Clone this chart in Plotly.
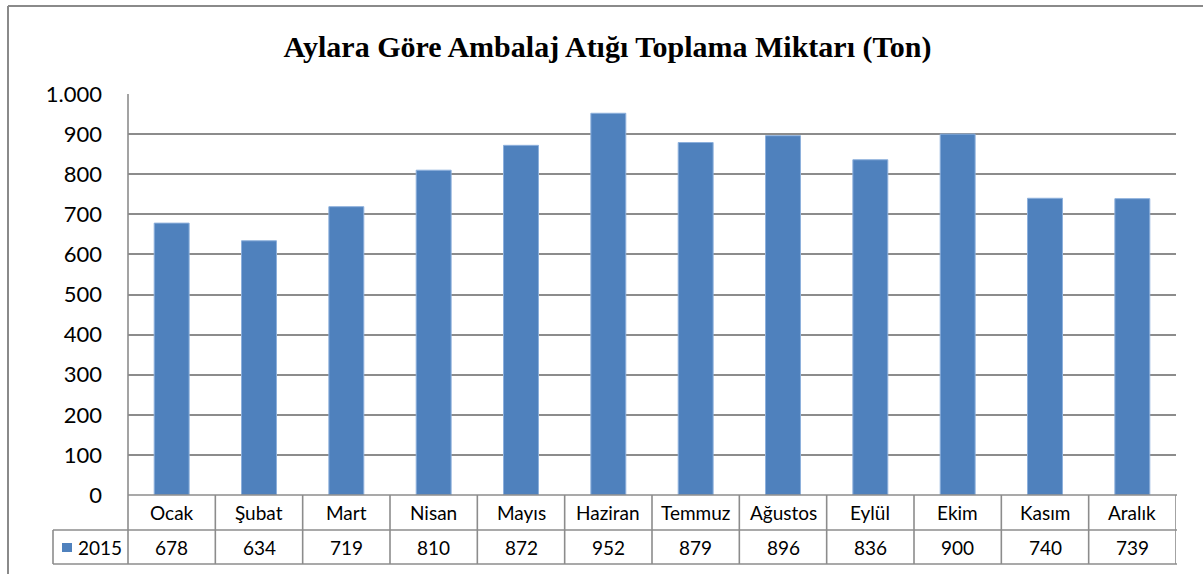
import plotly.graph_objects as go

title_text = "Aylara Göre Ambalaj Atığı Toplama Miktarı (Ton)"
series_name = "2015"
months = ["Ocak", "Şubat", "Mart", "Nisan", "Mayıs", "Haziran",
          "Temmuz", "Ağustos", "Eylül", "Ekim", "Kasım", "Aralık"]
values = [678, 634, 719, 810, 872, 952, 879, 896, 836, 900, 740, 739]
y_ticks = [0, 100, 200, 300, 400, 500, 600, 700, 800, 900, 1000]
y_tick_labels = ["0", "100", "200", "300", "400", "500", "600", "700", "800", "900", "1.000"]

W, H = 1203, 574
L, R, T, B = 128, 1176, 94, 495  # plot area in pixels
pw, ph = R - L, B - T

def px_x(p):
    return (p - L) / pw

def px_y(p):
    return (B - p) / ph

BAR = "#4F81BD"
GRID = "#8C8C8C"
TXT = "#000000"
FONT = "Lato"

fig = go.Figure()
fig.add_trace(go.Bar(
    x=months, y=values, name=series_name,
    marker=dict(color=BAR, line=dict(color="#8DB0DC", width=1)),
    showlegend=False, hoverinfo="x+y",
))

shapes = []
annotations = []

# table geometry (paper y)
row1_top = px_y(495)
row1_bot = px_y(530)
row2_bot = px_y(564)
line_style = dict(color=GRID, width=1.6)

for yy in (row1_bot, row2_bot):
    shapes.append(dict(type="line", xref="paper", yref="paper",
                       x0=px_x(53), x1=px_x(1177), y0=yy, y1=yy, line=line_style))
shapes.append(dict(type="line", xref="paper", yref="paper",
                   x0=0, x1=px_x(1177), y0=row1_top, y1=row1_top, line=line_style))
shapes.append(dict(type="line", xref="paper", yref="paper",
                   x0=px_x(53), x1=px_x(53), y0=row1_bot, y1=row2_bot, line=line_style))
shapes.append(dict(type="line", xref="paper", yref="paper",
                   x0=0, x1=0, y0=1, y1=row2_bot, line=line_style))
for i in range(len(months)):
    shapes.append(dict(type="line", xref="x", yref="paper",
                       x0=i + 0.5, x1=i + 0.5, y0=row1_top, y1=row2_bot, line=line_style))

# legend key square
shapes.append(dict(type="rect", xref="paper", yref="paper",
                   x0=px_x(62), x1=px_x(72), y0=px_y(552), y1=px_y(543),
                   fillcolor=BAR, line=dict(width=0)))

# outer chart border (top and left)
shapes.append(dict(type="line", xref="paper", yref="paper",
                   x0=px_x(8), x1=px_x(1210), y0=px_y(6), y1=px_y(6),
                   line=dict(color="#8A8A8A", width=2)))
shapes.append(dict(type="line", xref="paper", yref="paper",
                   x0=px_x(8), x1=px_x(8), y0=px_y(6), y1=px_y(580),
                   line=dict(color="#8A8A8A", width=2)))

for m, v in zip(months, values):
    annotations.append(dict(x=m, y=(row1_top + row1_bot) / 2, xref="x", yref="paper",
                            text=m, showarrow=False, font=dict(family=FONT, size=19, color=TXT),
                            xanchor="center", yanchor="middle"))
    annotations.append(dict(x=m, y=(row1_bot + row2_bot) / 2, xref="x", yref="paper",
                            text=str(v), showarrow=False, font=dict(family=FONT, size=19, color=TXT),
                            xanchor="center", yanchor="middle"))
annotations.append(dict(x=px_x(76), y=(row1_bot + row2_bot) / 2, xref="paper", yref="paper",
                        text=series_name, showarrow=False, font=dict(family=FONT, size=19, color=TXT),
                        xanchor="left", yanchor="middle"))

fig.update_layout(
    width=W, height=H,
    margin=dict(l=L, r=W - R, t=T, b=H - B, pad=0),
    paper_bgcolor="white", plot_bgcolor="white",
    title=dict(text="<b>" + title_text + "</b>", x=0.505, xanchor="center",
               y=1 - 46 / H, yanchor="middle", yref="container",
               font=dict(family="Liberation Serif", size=30, color=TXT)),
    bargap=0.6,
    xaxis=dict(type="category", range=[-0.5, len(months) - 0.5], showticklabels=False,
               showgrid=False, zeroline=False, showline=False, ticks=""),
    yaxis=dict(range=[0, 1000], tickvals=y_ticks, ticktext=y_tick_labels,
               showgrid=True, gridcolor=GRID, gridwidth=1.6, zeroline=False,
               showline=False, ticks="", ticklabelstandoff=25,
               tickfont=dict(family=FONT, size=22, color=TXT)),
    shapes=shapes, annotations=annotations,
)

fig.write_html("out.html", config={"displayModeBar": False},
               post_script="document.body.style.margin='0';document.body.style.overflow='hidden';")
